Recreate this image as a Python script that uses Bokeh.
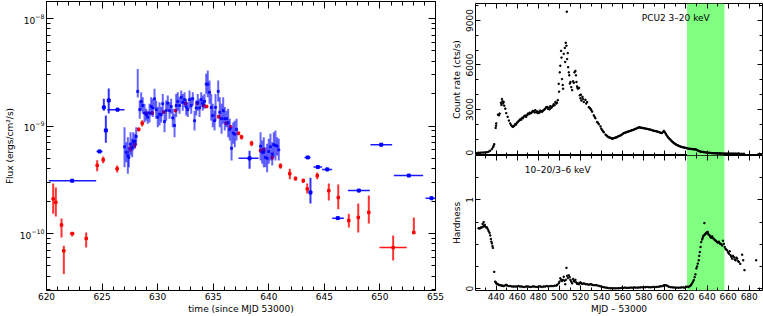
import numpy as np
from bokeh.plotting import figure
from bokeh.models import (LinearAxis, SingleIntervalTicker, LogTicker, BasicTickFormatter,
                          Range1d, BoxAnnotation, Label, CustomLabelingPolicy, AllLabels)
from bokeh.layouts import row, column
from bokeh.embed import file_html
from bokeh.resources import INLINE

FONT = "DejaVu Sans"
FS = "9px"

# ---------------- left panel data (flux in units of 1e-10 erg/cm2/s) -------------
red_t = [620.60, 620.84, 621.35, 621.56, 622.31, 623.57, 624.56, 625.10, 626.36, 627.56,
         627.95, 628.30, 628.61, 628.97, 629.51, 630.55, 631.61, 632.51, 633.56, 634.15,
         634.40, 635.50, 636.17, 636.56, 637.27, 637.55, 638.45, 639.26, 639.55, 640.31,
         641.05, 641.89, 642.40, 643.10, 643.46, 644.36, 645.40, 646.25, 647.20, 648.05,
         649.00, 651.19, 653.05]
red_f = [2.1, 1.95, 1.2, 0.69, 1.0, 0.9, 4.3, 4.85, 4.0, 6.2,
         6.7, 9.3, 10.6, 13.1, 13.2, 13.5, 13.9, 16.2, 16.3, 15.5,
         15.2, 12.2, 10.6, 9.8, 8.55, 7.9, 6.9, 5.9, 6.0, 5.1,
         4.25, 3.6, 3.25, 3.1, 2.6, 3.45, 2.5, 2.16, 1.32, 1.41,
         1.57, 0.74, 1.02]
red_lo = [1.53, 1.44, 0.92, 0.42, 0.94, 0.74, 3.8, 4.5, 3.7, 5.7,
          6.2, 8.9, 9.9, 12.6, 12.8, 13.1, 13.4, 15.6, 15.7, 15.0,
          14.7, 11.7, 10.1, 9.4, 8.2, 7.5, 6.5, 5.7, 5.7, 4.8,
          4.0, 3.2, 3.1, 2.95, 2.36, 3.2, 2.03, 1.68, 1.14, 1.02,
          1.24, 0.56, 0.99]
red_hi = [2.92, 2.68, 1.38, 0.77, 1.02, 1.02, 4.8, 5.2, 4.3, 6.7,
          7.3, 9.7, 11.3, 13.6, 13.7, 13.9, 14.4, 16.8, 16.9, 16.0,
          15.7, 12.7, 11.1, 10.2, 8.9, 8.3, 7.3, 6.2, 6.3, 5.4,
          4.5, 4.0, 3.4, 3.25, 2.92, 3.7, 2.92, 2.85, 1.53, 1.9,
          2.26, 0.96, 1.41]
red_xerr = [0, 0, 0, 0, 0.21, 0, 0, 0, 0.15, 0,
            0, 0, 0, 0, 0, 0, 0, 0, 0, 0,
            0, 0, 0, 0, 0, 0, 0, 0, 0, 0,
            0, 0, 0, 0, 0, 0, 0, 0, 0, 0,
            0, 1.23, 0]

# sparse blue points with time bins
bs_t = [622.31, 624.77, 625.16, 625.34, 625.60, 626.39, 638.27, 643.51, 643.75, 644.41,
        645.26, 646.21, 648.10, 650.12, 652.60, 654.64]
bs_f = [3.1, 5.8, 14.9, 9.1, 17.3, 14.2, 5.0, 5.1, 2.41, 4.15,
        3.95, 1.39, 2.51, 6.7, 3.46, 2.13]
bs_lo = [3.0, 5.6, 13.9, 7.0, 13.1, 13.8, 4.0, 4.95, 1.9, 4.0,
         3.8, 1.35, 2.42, 6.5, 3.36, 2.07]
bs_hi = [3.2, 6.0, 17.9, 12.5, 22.3, 14.6, 5.9, 5.25, 3.3, 4.3,
         4.1, 1.43, 2.6, 6.9, 3.56, 2.2]
bs_xlo = [620.21, 624.50, 625.16, 625.34, 625.60, 625.49, 637.28, 643.21, 643.75, 644.02,
          644.80, 645.70, 647.11, 649.15, 651.25, 654.10]
bs_xhi = [624.47, 625.04, 625.16, 625.34, 625.60, 627.02, 639.08, 643.75, 643.75, 644.80,
          645.70, 646.75, 649.09, 651.10, 653.89, 655.18]

# dense blue points
bd_t = [627.02, 627.17, 627.32, 627.41, 627.56, 627.71, 627.80, 627.95, 628.07, 628.21,
        628.39, 628.52, 628.66, 628.82, 628.97, 629.11, 629.27, 629.42, 629.56, 629.72,
        629.87, 630.01, 630.17, 630.32, 630.46, 630.62, 630.77, 630.91, 631.07, 631.22,
        631.36, 631.52, 631.67, 631.81, 631.97, 632.12, 632.26, 632.42, 632.57, 632.71,
        632.87, 633.02, 633.16, 633.32, 633.47, 633.61, 633.77, 633.92, 634.06, 634.22,
        634.37, 634.51, 634.67, 634.82, 634.96, 635.12, 635.21, 635.45, 635.59, 635.75,
        635.90, 636.04, 636.20, 636.35, 636.49, 636.65, 636.80, 636.94, 637.10, 639.26,
        639.41, 639.55, 639.70, 639.85, 640.00, 640.15, 640.31, 640.45, 640.60, 640.75,
        640.90]
bd_f = [6.4, 5.7, 5.3, 5.1, 6.8, 6.3, 7.2, 7.2, 8.0, 21.0,
        14.2, 16.9, 15.5, 13.2, 12.8, 12.1, 13.2, 15.2, 14.7, 17.9,
        14.2, 12.1, 12.9, 12.7, 16.1, 11.0, 13.9, 16.3, 13.9, 15.2,
        11.9, 10.1, 15.5, 16.9, 15.5, 18.5, 16.6, 17.6, 15.0, 14.2,
        17.6, 15.5, 17.9, 11.2, 14.7, 16.6, 14.7, 17.6, 16.3, 17.0,
        24.5, 24.5, 20.6, 14.9, 12.5, 11.2, 14.9, 21.0, 13.4, 11.7,
        13.9, 11.7, 11.7, 10.7, 9.3, 6.2, 8.6, 8.4, 9.3, 6.5,
        5.7, 5.7, 5.1, 5.0, 5.8, 6.4, 5.5, 6.7, 6.6, 6.5,
        6.0]
bd_lo = [4.14, 4.61, 3.59, 4.14, 5.32, 5.13, 5.92, 6.18, 6.59, 18.4,
         11.7, 13.9, 13.0, 10.8, 11.2, 10.5, 10.8, 12.5, 12.1, 14.5,
         11.7, 9.75, 10.1, 10.8, 13.0, 8.75, 11.2, 13.9, 11.7, 13.0,
         9.75, 7.87, 12.1, 13.9, 13.0, 16.1, 13.9, 15.0, 12.5, 12.1,
         14.5, 13.0, 15.5, 9.08, 12.5, 13.9, 12.1, 15.0, 13.9, 14.5,
         20.0, 18.5, 16.1, 11.2, 9.75, 9.08, 11.2, 16.9, 9.75, 8.46,
         10.5, 9.08, 9.75, 7.87, 7.33, 4.78, 6.83, 6.35, 7.33, 4.78,
         4.45, 4.14, 4.14, 3.72, 4.45, 4.78, 4.29, 5.13, 4.78, 5.32,
         4.78]
bd_hi = [9.75, 7.07, 7.87, 6.35, 8.75, 7.65, 8.75, 8.46, 9.75, 34.0,
         17.3, 20.6, 18.5, 16.1, 14.5, 13.9, 16.1, 18.5, 17.9, 22.2,
         17.3, 15.0, 16.6, 15.0, 19.9, 13.9, 17.3, 19.2, 16.6, 17.9,
         14.5, 13.0, 19.9, 20.6, 18.5, 21.4, 19.9, 20.6, 17.9, 16.6,
         21.4, 18.5, 20.6, 13.9, 17.3, 19.9, 17.9, 20.6, 19.2, 19.9,
         30.6, 32.8, 26.5, 19.9, 16.1, 13.9, 19.9, 26.5, 18.5, 16.1,
         18.5, 15.0, 13.9, 14.5, 11.7, 9.75, 10.8, 11.2, 11.7, 8.75,
         7.33, 7.87, 6.35, 6.83, 7.60, 8.46, 7.07, 8.75, 9.08, 7.87,
         7.60]

# ---------------- right panels data ----------------
cr_t = [421.7, 423.2, 424.8, 426.4, 428.0, 429.6, 431.1, 432.7, 434.3, 435.9, 437.0, 437.5, 438.1,
        439.4, 439.8, 440.0, 441.6, 442.5, 443.2,
        444.4, 444.9, 445.4, 445.9, 446.4, 447.0, 447.6, 448.6, 449.5, 450.8, 452.0, 453.3, 454.2,
        455.2, 455.9, 456.5, 457.2, 458.0, 458.8, 459.6, 460.4, 461.2, 462.0, 462.8, 463.6, 464.4,
        465.2, 466.0, 466.8, 467.6, 468.4, 469.2, 470.0, 470.8, 471.6, 472.3, 473.1, 473.9, 474.7,
        475.5, 476.3, 477.1, 477.9, 478.7, 479.5, 480.3, 481.0, 481.8, 482.6, 483.4, 484.2, 485.0,
        485.8, 486.6, 487.4, 488.2, 489.0, 489.8, 490.5, 491.3, 492.1, 492.9, 493.7, 494.5, 495.3,
        496.1, 497.0, 497.6, 498.3, 499.2, 499.6, 500.2, 500.8, 501.5, 501.9, 502.4, 503.0, 503.4,
        504.0, 505.0, 505.4, 505.9, 506.6, 506.9, 507.2, 507.8, 508.2, 508.8, 509.3, 509.8, 510.4,
        511.2, 512.0, 512.9, 513.5, 514.2, 515.1, 515.6, 516.1, 516.7, 517.1, 517.6, 518.6, 519.2,
        519.9, 520.3, 520.8, 521.8, 522.3, 523.0, 524.6, 525.4, 526.2, 527.8, 528.6, 529.4, 530.2,
        531.0, 532.5, 533.3, 534.1, 535.7, 536.5, 537.3, 538.9, 539.7, 540.5, 541.3, 542.1, 543.7,
        544.5, 545.2, 546.0, 546.8, 547.6, 548.4, 549.2, 550.0, 550.8, 551.6, 552.4, 553.2, 554.0,
        554.7, 555.5, 556.4, 557.3, 558.2, 559.1, 560.0, 560.9, 561.8, 562.7, 563.6, 564.5, 565.4,
        566.3, 567.3, 568.2, 569.1, 570.0, 570.9, 571.8, 572.7, 573.6, 574.5, 575.4, 576.3, 577.2,
        578.1, 579.0, 580.0, 581.0, 582.0, 583.0, 584.0, 585.0, 586.0, 587.0, 588.0, 589.0, 590.0,
        591.0, 592.0, 593.0, 594.0, 595.0, 596.0, 597.0, 598.0, 599.0, 599.8, 600.6, 601.4, 602.2,
        603.0, 603.8, 604.6, 605.4, 606.2, 607.0, 607.8, 608.6, 609.4, 610.2, 610.9, 611.8, 612.7,
        613.6, 614.5, 615.4, 616.3, 617.2, 618.1, 619.0, 620.0, 621.0, 622.0, 623.0, 624.0, 625.2,
        626.0, 627.0, 628.0, 629.0, 629.9, 630.8, 631.6, 632.4, 633.1, 634.0, 635.0, 636.0, 637.0,
        637.8, 639.0, 640.0, 641.0, 642.0, 643.0, 644.0, 645.0, 646.0, 647.0, 648.0, 649.0, 650.0,
        651.0, 652.0, 653.0, 654.0, 655.0, 656.0, 657.0, 658.0, 659.0, 660.0, 661.0, 662.0, 663.0,
        664.0, 665.0, 666.0, 667.0, 668.0, 669.0, 670.0, 671.0, 673.0, 675.0]
cr_c = [60, 80, 80, 90, 90, 100, 110, 150, 220, 330, 450, 550, 650,
        1750, 1900, 2050, 2650, 2600, 2720,
        3450, 3300, 3700, 3550, 3400, 3500, 3250, 3050, 2750, 2500, 2250, 2050, 1930,
        1850, 1820, 1880, 1900, 2000, 1980, 2100, 2150, 2220, 2260, 2330, 2300, 2430,
        2400, 2500, 2560, 2580, 2500, 2620, 2720, 2680, 2780, 2730, 2760, 2820, 2900,
        2880, 2800, 2950, 2800, 2870, 2750, 2840, 2780, 2920, 2870, 2840, 2900, 2960,
        3000, 3060, 3150, 3170, 3050, 3120, 3000, 3220, 3100, 3170, 3250, 3350, 3280,
        3500, 3400, 3450, 3620, 4730, 4200, 5500, 5950, 6950, 6500, 5050, 4650, 4400,
        6750, 7150, 6200, 7500, 7300, 9600, 6400, 6800, 5850, 5500, 5300, 4750, 4850,
        4500, 4300, 4900, 4800, 5500, 5600, 5300, 4850, 4550, 4450, 4400, 4450, 3950,
        3750, 4000, 3600, 3850, 3700, 3500, 3650, 3400, 3500, 3150, 3100, 3050, 2950,
        2850, 2600, 2500, 2400, 2150, 2100, 2000, 1850, 1700, 1600, 1520, 1450, 1300,
        1250, 1200, 1150, 1120, 1100, 1080, 1050, 1020, 1040, 1060, 1080, 1100, 1120,
        1130, 1180, 1200, 1220, 1260, 1300, 1350, 1400, 1420, 1440, 1470, 1490, 1510,
        1530, 1550, 1580, 1600, 1620, 1650, 1680, 1700, 1740, 1760, 1800, 1780, 1760,
        1770, 1740, 1730, 1720, 1700, 1690, 1670, 1650, 1640, 1620, 1590, 1570, 1550,
        1540, 1520, 1500, 1480, 1450, 1420, 1400, 1460, 1550, 1480, 1380, 1290, 1200,
        1120, 1050, 1000, 940, 880, 820, 770, 730, 690, 650, 620, 590, 560,
        530, 500, 480, 460, 440, 430, 420, 400, 380, 360, 350, 340, 330,
        320, 310, 300, 300, 290, 250, 210, 190, 170, 150, 140, 130, 115,
        110, 95, 85, 80, 70, 65, 55, 50, 45, 40, 35, 30, 30,
        28, 25, 25, 22, 20, 20, 20, 18, 18, 18, 16, 16, 15,
        15, 15, 14, 14, 12, 12, 12, 12, 10, 10]

hd_t = [423.2, 424.0, 424.8, 425.6, 426.4, 427.0, 427.5, 428.0, 428.5, 429.0, 429.6, 430.3,
        431.1, 431.9, 432.7, 433.6, 434.3, 434.9, 435.4, 435.9, 436.4, 436.8, 438.1, 439.0,
        439.6, 440.0, 440.8, 441.6, 442.3, 443.0, 444.0, 445.0, 446.0, 447.0, 448.0, 449.5,
        450.5, 452.0, 453.5, 455.0, 456.5, 458.0, 459.5, 461.0, 462.5, 464.0, 465.5, 467.0,
        468.5, 470.0, 471.5, 473.0, 474.5, 476.0, 477.5, 479.0, 480.5, 482.0, 483.5, 485.0,
        486.5, 488.0, 489.5, 491.0, 492.5, 494.0, 495.5, 497.0, 498.0, 499.2, 500.0, 500.8,
        501.6, 502.4, 503.2, 504.0, 504.8, 505.5, 506.0, 506.6, 507.2, 508.0, 508.8, 509.6,
        510.4, 511.2, 512.0, 512.9, 513.6, 514.2, 515.1, 516.0, 516.7, 517.6, 518.6, 519.2,
        519.9, 520.8, 521.8, 523.0, 524.0, 525.0, 526.5, 527.8, 529.0, 530.0, 531.0, 532.0,
        533.5, 535.0, 536.5, 538.0, 539.5, 541.0, 542.5, 544.0, 545.5, 547.0, 548.5, 550.0,
        551.5, 553.0, 554.5, 556.0, 557.5, 559.0, 560.5, 562.0, 563.5, 565.0, 566.5, 568.0,
        569.5, 571.0, 572.5, 574.0, 575.5, 577.0, 578.5, 580.0, 581.5, 583.0, 584.5, 586.0,
        587.5, 589.0, 590.5, 592.0, 593.5, 595.0, 596.5, 598.0, 599.0, 600.0, 601.0, 602.0,
        603.0, 604.0, 605.5, 607.0, 608.5, 610.0, 611.5, 613.0, 614.5, 616.0, 617.5, 619.0,
        620.0, 621.1, 622.5, 623.5, 624.3, 625.0, 625.8, 626.6, 627.4, 628.2, 629.0, 629.9,
        630.5, 631.2, 632.1, 632.6, 633.1, 633.8, 634.4, 635.3, 635.8, 636.3, 636.9, 637.5,
        638.0, 638.5, 639.0, 639.5, 640.1, 640.6, 641.0, 641.7, 642.4, 643.2, 644.0, 644.8,
        645.6, 646.4, 647.2, 648.0, 648.8, 649.6, 650.4, 651.2, 652.0, 652.8, 653.5, 654.3,
        655.1, 655.9, 656.7, 657.5, 658.3, 659.1, 659.9, 660.7, 661.5, 662.3, 663.0, 663.8,
        664.6, 665.4, 666.2, 667.0, 667.8, 668.6, 669.4, 670.2, 671.5, 673.3, 674.3, 675.5,
        686.6]
hd_h = [0.68, 0.68, 0.68, 0.69, 0.69, 0.73, 0.70, 0.75, 0.71, 0.72, 0.70, 0.69,
        0.69, 0.67, 0.65, 0.63, 0.60, 0.56, 0.53, 0.51, 0.48, 0.46, 0.19, 0.08,
        0.07, 0.06, 0.055, 0.05, 0.045, 0.04, 0.04, 0.035, 0.035, 0.03, 0.035, 0.045,
        0.035, 0.03, 0.03, 0.025, 0.025, 0.025, 0.025, 0.03, 0.025, 0.025, 0.02, 0.02,
        0.025, 0.025, 0.02, 0.02, 0.025, 0.025, 0.02, 0.02, 0.025, 0.025, 0.02, 0.025,
        0.025, 0.03, 0.025, 0.03, 0.03, 0.03, 0.035, 0.035, 0.045, 0.06, 0.08, 0.117,
        0.10, 0.087, 0.10, 0.135, 0.09, 0.05, 0.10, 0.235, 0.146, 0.12, 0.15, 0.13,
        0.10, 0.08, 0.06, 0.11, 0.09, 0.08, 0.10, 0.07, 0.054, 0.06, 0.05, 0.065,
        0.07, 0.06, 0.054, 0.06, 0.055, 0.05, 0.05, 0.045, 0.05, 0.05, 0.045, 0.04,
        0.04, 0.04, 0.035, 0.03, 0.025, 0.02, 0.015, 0.013, 0.01, 0.006, 0.005, 0.005,
        0.004, 0.004, 0.005, 0.005, 0.006, 0.01, 0.008, 0.013, 0.01, 0.01, 0.012, 0.013,
        0.012, 0.015, 0.012, 0.013, 0.014, 0.015, 0.015, 0.017, 0.016, 0.02, 0.018, 0.015,
        0.018, 0.02, 0.019, 0.02, 0.022, 0.025, 0.027, 0.03, 0.038, 0.04, 0.038, 0.035,
        0.028, 0.02, 0.018, 0.015, 0.014, 0.013, 0.012, 0.012, 0.013, 0.015, 0.014, 0.013,
        0.018, 0.024, 0.02, 0.03, 0.035, 0.045, 0.061, 0.08, 0.098, 0.13, 0.161, 0.228,
        0.25, 0.283, 0.32, 0.37, 0.413, 0.47, 0.524, 0.554, 0.57, 0.591, 0.60, 0.739,
        0.61, 0.617, 0.625, 0.63, 0.635, 0.64, 0.62, 0.606, 0.60, 0.58, 0.575, 0.59,
        0.57, 0.561, 0.55, 0.543, 0.535, 0.524, 0.52, 0.53, 0.51, 0.506, 0.50, 0.487,
        0.54, 0.506, 0.47, 0.45, 0.44, 0.431, 0.41, 0.394, 0.42, 0.376, 0.36, 0.339,
        0.37, 0.357, 0.33, 0.32, 0.35, 0.339, 0.31, 0.302, 0.28, 0.383, 0.32, 0.209,
        0.32]

band = (621.0, 656.5)
top_text = "PCU2 3–20 keV"
bot_text = "10–20/3–6 keV"

# ---------------- helpers ----------------
NO_LABELS = "return new Set()"


def style(ax, mt=7, nt=4):
    ax.axis_line_color = None
    ax.major_tick_in = mt
    ax.major_tick_out = 0
    ax.minor_tick_in = nt
    ax.minor_tick_out = 0
    ax.major_tick_line_color = "black"
    ax.minor_tick_line_color = "black"
    ax.major_label_text_font = FONT
    ax.major_label_text_font_size = FS
    ax.major_label_text_color = "black"
    ax.axis_label_text_font = FONT
    ax.axis_label_text_font_size = FS
    ax.axis_label_text_font_style = "normal"
    ax.axis_label_text_color = "black"
    ax.major_label_standoff = 2
    ax.axis_label_standoff = 2
    ax.major_label_policy = AllLabels()


def tick_only_axis(ticker, mt, nt):
    ax = LinearAxis(ticker=ticker, formatter=BasicTickFormatter())
    style(ax, mt, nt)
    ax.major_label_policy = CustomLabelingPolicy(code=NO_LABELS)
    ax.major_label_text_font_size = "0px"
    ax.major_label_standoff = 0
    ax.major_label_orientation = "horizontal"
    return ax


# ---------------- left panel ----------------
p = figure(width=448, height=316, x_range=Range1d(620, 655),
           y_range=Range1d(2.95e-11, 1.44e-8), y_axis_type="log",
           output_backend="svg", toolbar_location=None,
           min_border_left=46, min_border_right=13, min_border_top=1, min_border_bottom=26)
p.grid.grid_line_color = None
p.outline_line_color = "black"
p.background_fill_color = "white"

p.xaxis.ticker = SingleIntervalTicker(interval=5, num_minor_ticks=5)
p.xaxis.axis_label = "time (since MJD 53000)"
p.yaxis.ticker = LogTicker(num_minor_ticks=10)
p.yaxis.axis_label = "Flux (ergs/cm²/s)"
style(p.xaxis[0])
style(p.yaxis[0])
p.xaxis[0].axis_label_standoff = 1
p.add_layout(tick_only_axis(SingleIntervalTicker(interval=5, num_minor_ticks=5), 7, 4), "above")
p.add_layout(tick_only_axis(LogTicker(num_minor_ticks=10), 7, 4), "right")

S = 1e-10
rt = np.array(red_t); rf = np.array(red_f) * S
rxe = np.array(red_xerr)
p.segment(rt, np.array(red_lo) * S, rt, np.array(red_hi) * S,
          line_color="red", line_width=2, line_alpha=0.8)
p.segment(rt - rxe, rf, rt + rxe, rf, line_color="red", line_width=1.5, line_alpha=0.9)
p.scatter(rt, rf, marker="square", size=2.5, color="red")

bt = np.array(bd_t)
p.segment(bt, np.array(bd_lo) * S, bt, np.array(bd_hi) * S,
          line_color="blue", line_width=2, line_alpha=0.6)
p.scatter(bt, np.array(bd_f) * S, marker="square", size=2, color="blue", alpha=0.8)

st = np.array(bs_t); sf = np.array(bs_f) * S
p.segment(st, np.array(bs_lo) * S, st, np.array(bs_hi) * S,
          line_color="blue", line_width=2, line_alpha=0.8)
p.segment(np.array(bs_xlo), sf, np.array(bs_xhi), sf,
          line_color="blue", line_width=1.5, line_alpha=0.9)
p.scatter(st, sf, marker="square", size=3, color="blue")

# ---------------- right panels ----------------
xr = Range1d(420.3, 692.6)

pt = figure(width=315, height=155, x_range=xr, y_range=Range1d(-110, 10150),
            output_backend="svg", toolbar_location=None,
            min_border_left=25, min_border_right=1, min_border_top=3, min_border_bottom=0)
pt.grid.grid_line_color = None
pt.outline_line_color = "black"
pt.add_layout(BoxAnnotation(left=band[0], right=band[1], fill_color="#80ff80",
                            fill_alpha=1.0, line_color=None, level="underlay"))
pt.yaxis.ticker = SingleIntervalTicker(interval=3000, num_minor_ticks=3)
pt.yaxis.axis_label = "Count rate (cts/s)"
style(pt.yaxis[0], 5, 3)
pt.yaxis[0].major_label_orientation = "vertical"
pt.xaxis.visible = False
pt.add_layout(tick_only_axis(SingleIntervalTicker(interval=20, num_minor_ticks=2), 5, 3), "below")
pt.add_layout(tick_only_axis(SingleIntervalTicker(interval=20, num_minor_ticks=2), 5, 3), "above")
pt.add_layout(tick_only_axis(SingleIntervalTicker(interval=3000, num_minor_ticks=3), 5, 3), "right")
pt.scatter(cr_t, cr_c, marker="square", size=1.3, color="black")
pt.add_layout(Label(x=578, y=9150, text=top_text, text_font=FONT, text_font_size=FS,
                    text_baseline="middle", text_align="left", text_color="black"))

pb = figure(width=315, height=161, x_range=xr, y_range=Range1d(-0.02, 1.5),
            output_backend="svg", toolbar_location=None,
            min_border_left=25, min_border_right=1, min_border_top=0, min_border_bottom=24)
pb.grid.grid_line_color = None
pb.outline_line_color = "black"
pb.add_layout(BoxAnnotation(left=band[0], right=band[1], fill_color="#80ff80",
                            fill_alpha=1.0, line_color=None, level="underlay"))
pb.yaxis.ticker = SingleIntervalTicker(interval=1, num_minor_ticks=4)
pb.yaxis.axis_label = "Hardness"
style(pb.yaxis[0], 5, 3)
pb.yaxis[0].major_label_orientation = "vertical"
pb.xaxis.ticker = SingleIntervalTicker(interval=20, num_minor_ticks=2)
pb.xaxis.axis_label = "MJD – 53000"
style(pb.xaxis[0], 5, 3)
pb.xaxis[0].axis_label_standoff = 1
pb.add_layout(tick_only_axis(SingleIntervalTicker(interval=20, num_minor_ticks=2), 5, 3), "above")
pb.add_layout(tick_only_axis(SingleIntervalTicker(interval=1, num_minor_ticks=4), 5, 3), "right")
pb.scatter(hd_t, hd_h, marker="square", size=1.3, color="black")
pb.add_layout(Label(x=467, y=1.34, text=bot_text, text_font=FONT, text_font_size=FS,
                    text_baseline="middle", text_align="left", text_color="black"))

layout = row(p, column(pt, pb))
open("out.html", "w").write(file_html(layout, INLINE))
